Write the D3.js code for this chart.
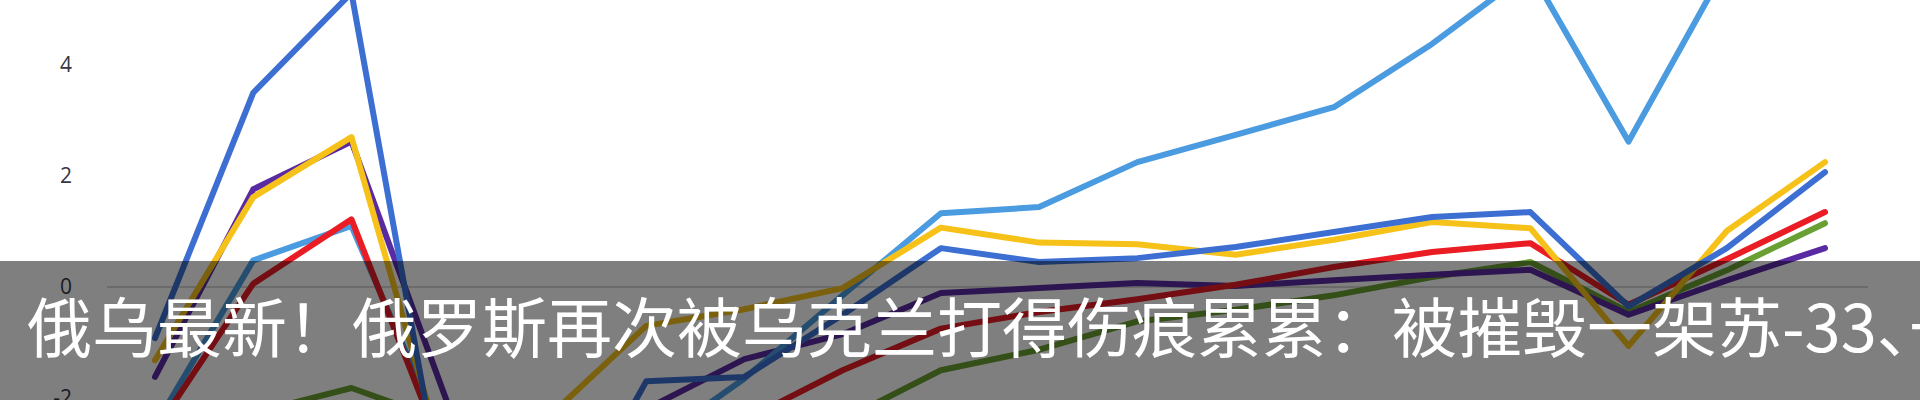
<!DOCTYPE html>
<html>
<head>
<meta charset="utf-8">
<script src="https://cdn.jsdelivr.net/npm/d3@7"></script>
<style>
  html, body { margin: 0; padding: 0; background: #ffffff; }
  svg { display: block; }
  .half { font-feature-settings: "halt" 1; }
</style>
</head>
<body>
<svg id="chart" width="1920" height="400"></svg>
<script>
// ---- data ----
const categories = ["1","2","3","4","5","6","7","8","9","10","11","12","13","14","15","16","17","18"];
const tickValues = [-2, 0, 2, 4];
const seriesNames = ["green", "purple", "lightBlue", "red", "yellow", "darkBlue"];
const green     = [-3.5, -2.27, -1.82, -2.45, -2.9, -3.2, -3.0, -2.4, -1.5, -1.13, -0.62, -0.41, -0.15, 0.18, 0.45, -0.45, 0.3, 1.15];
const purple    = [-1.62, 1.76, 2.62, -2.2, -3.0, -2.2, -1.3, -0.85, -0.11, -0.02, 0.07, 0.02, 0.12, 0.22, 0.31, -0.5, 0.12, 0.7];
const lightBlue = [-2.5, 0.48, 1.1, -3.0, -3.5, -2.9, -1.65, -0.15, 1.33, 1.44, 2.25, 2.74, 3.24, 4.38, 5.7, 2.62, 5.8, 6.3];
const red       = [-2.6, 0.06, 1.22, -3.3, -3.8, -3.0, -2.4, -1.5, -0.75, -0.45, -0.22, 0.04, 0.36, 0.63, 0.79, -0.32, 0.5, 1.35];
const yellow    = [-1.32, 1.62, 2.7, -3.5, -2.35, -0.7, -0.4, -0.02, 1.07, 0.8, 0.77, 0.58, 0.85, 1.17, 1.06, -1.06, 1.01, 2.25];
const darkBlue  = [-0.92, 3.5, 5.3, -4.5, -4.9, -1.7, -1.62, -0.5, 0.7, 0.45, 0.52, 0.72, 0.99, 1.26, 1.35, -0.35, 0.7, 2.07];
const colors = ["#6a9f33", "#5a2aa3", "#4b9be0", "#ea1c24", "#f6c21a", "#3d6fd2"];
const titleParts = ["俄乌最新！俄罗斯再次被乌克兰打得伤痕累累：被摧毁一架苏-33", "、", "一"];

const seriesData = [green, purple, lightBlue, red, yellow, darkBlue];

// ---- chart ----
const svg = d3.select("#chart");
svg.append("rect").attr("width", 1920).attr("height", 400).attr("fill", "#ffffff");

const x = d3.scalePoint().domain(categories).range([155, 1825]);
const y = d3.scaleLinear().domain([-2, 4]).range([398, 65]);

// zero grid line
svg.append("line")
  .attr("x1", 107).attr("x2", 1868)
  .attr("y1", y(0)).attr("y2", y(0))
  .attr("stroke", "#d6d6d6").attr("stroke-width", 2);

// y axis labels
const yAxis = d3.axisLeft(y).tickValues(tickValues).tickSize(0).tickPadding(3)
  .tickFormat(d => d < 0 ? "-" + Math.abs(d) : String(d));
const gy = svg.append("g").attr("transform", "translate(75,0)").call(yAxis);
gy.select(".domain").remove();
gy.selectAll("text")
  .attr("font-family", "'Open Sans', 'Noto Sans', sans-serif")
  .attr("font-size", 21)
  .attr("fill", "#363646");

// lines
const line = d3.line()
  .x((d, i) => x(categories[i]))
  .y(d => y(d));

svg.append("g").selectAll("path")
  .data(seriesData)
  .join("path")
  .attr("d", d => line(d))
  .attr("fill", "none")
  .attr("stroke", (d, i) => colors[i])
  .attr("stroke-width", 6)
  .attr("stroke-linejoin", "round")
  .attr("stroke-linecap", "round");

// caption band
svg.append("rect")
  .attr("x", 0).attr("y", 261).attr("width", 1920).attr("height", 139)
  .attr("fill", "#000000").attr("fill-opacity", 0.5);

const t = svg.append("text")
  .attr("x", 27).attr("y", 352)
  .attr("font-family", "'Noto Sans CJK SC', sans-serif")
  .attr("font-weight", 400)
  .attr("font-size", 65)
  .attr("fill", "#ffffff");
t.append("tspan").text(titleParts[0]);
t.append("tspan").attr("class", "half").text(titleParts[1]);
t.append("tspan").text(titleParts[2]);
</script>
</body>
</html>
